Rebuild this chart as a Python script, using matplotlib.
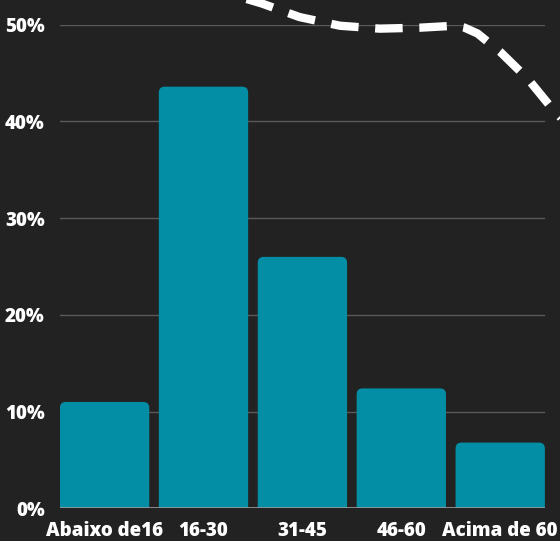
import numpy as np
import matplotlib
matplotlib.use('Agg')
import matplotlib.pyplot as plt
from matplotlib.patches import FancyBboxPatch
from matplotlib.ticker import FuncFormatter

# dados
categorias = ['Abaixo de16', '16-30', '31-45', '46-60', 'Acima de 60']
percentuais = [11.0, 43.6, 26.0, 12.4, 6.8]
yticks = [0, 10, 20, 30, 40, 50]

# curva decorativa tracejada (posicao da categoria, %)
curva_x = [1.36, 1.59, 1.97, 2.38, 2.78, 3.19, 3.54, 3.64, 3.77, 4.00, 4.28, 4.52, 4.65]
curva_y = [52.9, 52.2, 50.8, 49.9, 49.6, 49.7, 49.9, 49.7, 49.1, 47.2, 44.4, 41.4, 40.0]

fundo = '#222222'
cor_barra = '#038ea5'
plt.rcParams['font.family'] = ['Open Sans', 'DejaVu Sans']

fig = plt.figure(figsize=(5.6, 5.41), dpi=100, facecolor=fundo)
ax = fig.add_axes([0.107, 0.0604, 0.866, 0.8938], facecolor=fundo)

largura = 0.903
x = np.arange(len(categorias))
barras = ax.bar(x, percentuais, largura, color=cor_barra, zorder=2)

# troca as barras por versoes com cantos arredondados
for b in barras:
    bx, bw, bh = b.get_x(), b.get_width(), b.get_height()
    b.remove()
    p = FancyBboxPatch((bx, -2), bw, bh + 2,
                       boxstyle='round,pad=0,rounding_size=0.06',
                       mutation_aspect=10.2, fc=cor_barra, ec='none', zorder=2)
    ax.add_patch(p)

ax.plot(curva_x, curva_y, color='white', lw=6, dashes=(3.3, 2.0),
        solid_capstyle='butt', dash_capstyle='butt', clip_on=False, zorder=4)

ax.set_xlim(-largura / 2, len(categorias) - 1 + largura / 2)
ax.set_ylim(0, 50)
ax.set_yticks(yticks)
ax.yaxis.set_major_formatter(FuncFormatter(lambda v, p: '%d%%' % v))
ax.set_xticks(x)
ax.set_xticklabels(categorias)

for s in ax.spines.values():
    s.set_visible(False)
ax.grid(axis='y', color='#5a5a5a', lw=1, zorder=0)
ax.set_axisbelow(True)
ax.axhline(0, color='#9a9a9a', lw=1.2, zorder=3)

ax.tick_params(axis='both', length=0, colors='white', labelsize=13.5)
ax.tick_params(axis='y', pad=11)
ax.tick_params(axis='x', pad=9)
for t in ax.get_xticklabels() + ax.get_yticklabels():
    t.set_fontweight(800)

fig.savefig('out.png', dpi=100, facecolor=fundo)
